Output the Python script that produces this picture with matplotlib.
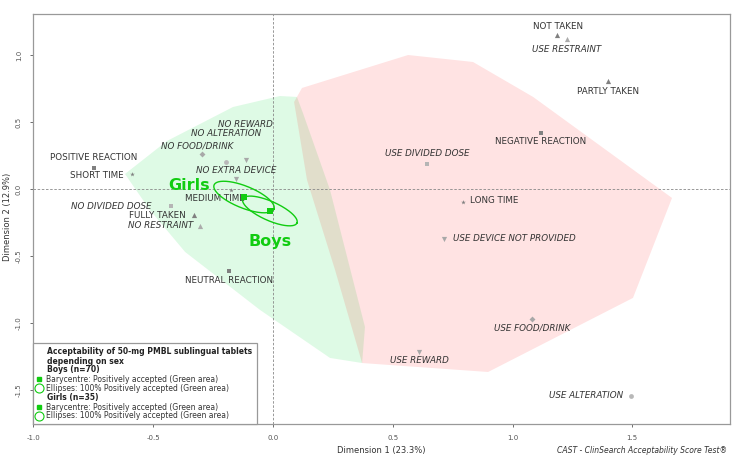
import numpy as np
import matplotlib.pyplot as plt

# category coordinates on the first two dimensions
labels = ['NOT TAKEN', 'USE RESTRAINT', 'PARTLY TAKEN', 'NEGATIVE REACTION',
          'USE DIVIDED DOSE', 'LONG TIME', 'USE DEVICE NOT PROVIDED',
          'USE FOOD/DRINK', 'USE REWARD', 'USE ALTERATION',
          'POSITIVE REACTION', 'SHORT TIME', 'NO FOOD/DRINK', 'NO ALTERATION',
          'NO REWARD', 'NO EXTRA DEVICE', 'MEDIUM TIME', 'NO DIVIDED DOSE',
          'FULLY TAKEN', 'NO RESTRAINT', 'NEUTRAL REACTION']
dim1 = [1.186, 1.228, 1.399, 1.119, 0.643, 0.793, 0.714, 1.081, 0.610, 1.495,
        -0.747, -0.589, -0.296, -0.196, -0.113, -0.155, -0.175, -0.426,
        -0.330, -0.305, -0.184]
dim2 = [1.149, 1.119, 0.806, 0.418, 0.187, -0.097, -0.373, -0.970, -1.216, -1.545,
        0.157, 0.112, 0.261, 0.201, 0.216, 0.075, -0.007, -0.127,
        -0.194, -0.276, -0.612]
variable = ['take', 'restraint', 'take', 'reaction', 'divided', 'time', 'device',
            'food', 'reward', 'alteration', 'reaction', 'time', 'food', 'alteration',
            'reward', 'device', 'time', 'divided', 'take', 'restraint', 'reaction']

# areas
green_x = [-0.618, -0.514, -0.367, -0.054, 0.238, 0.372, 0.384, 0.238, 0.125,
           0.100, 0.029, -0.167, -0.443]
green_y = [0.112, -0.157, -0.470, -0.903, -1.261, -1.299, -1.030, -0.007, 0.567,
           0.687, 0.694, 0.612, 0.358]
red_x = [0.088, 0.121, 0.564, 0.835, 1.086, 1.603, 1.666, 1.503, 0.898, 0.372,
         0.259, 0.142]
red_y = [0.649, 0.754, 1.000, 0.948, 0.687, 0.015, -0.067, -0.813, -1.366, -1.299,
         -0.604, 0.067]

# barycentres and ellipse half-axes (vectors)
groups = ['Girls', 'Boys']
bary_x = [-0.121, -0.013]
bary_y = [-0.060, -0.164]
ell_u = [(0.125, -0.090), (0.113, -0.090)]
ell_v = [(-0.017, -0.076), (-0.016, -0.065)]

# layout of labels (offset in pixels, alignment)
label_pos = {
    'NOT TAKEN': (1, 9, 'center'), 'USE RESTRAINT': (-1, -10, 'center'),
    'PARTLY TAKEN': (0, -11, 'center'), 'NEGATIVE REACTION': (0, -9, 'center'),
    'USE DIVIDED DOSE': (0, 10, 'center'), 'LONG TIME': (7, 1, 'left'),
    'USE DEVICE NOT PROVIDED': (9, 0, 'left'), 'USE FOOD/DRINK': (0, -9, 'center'),
    'USE REWARD': (0, -9, 'center'), 'USE ALTERATION': (-8, 0, 'right'),
    'POSITIVE REACTION': (0, 10, 'center'), 'SHORT TIME': (-8, -2, 'right'),
    'NO FOOD/DRINK': (-5, 8, 'center'), 'NO ALTERATION': (0, 29, 'center'),
    'NO REWARD': (0, 36, 'center'), 'NO EXTRA DEVICE': (0, 8, 'center'),
    'MEDIUM TIME': (-16, -9, 'center'), 'NO DIVIDED DOSE': (-19, 0, 'right'),
    'FULLY TAKEN': (-8, -1, 'right'), 'NO RESTRAINT': (-7, 0, 'right'),
    'NEUTRAL REACTION': (0, -10, 'center'),
}
styles = {
    'take': ('^', '#808080', 14), 'restraint': ('^', '#ababab', 14),
    'reaction': ('s', '#808080', 10), 'time': ('*', '#808080', 12),
    'divided': ('s', '#b5b5b5', 10), 'food': ('D', '#a8a8a8', 9),
    'alteration': ('o', '#b8b8b8', 12), 'reward': ('v', '#a8a8a8', 14),
    'device': ('v', '#a8a8a8', 14),
}
GREEN = '#11cc11'
W, H = 733, 461

fig = plt.figure(figsize=(W / 100, H / 100), dpi=100)
ax = fig.add_axes([33 / W, 37 / H, 697 / W, 410 / H])

ax.fill(green_x, green_y, color=(0.0, 0.86, 0.24), alpha=0.13, lw=0, zorder=1)
ax.fill(red_x, red_y, color=(1.0, 0.0, 0.0), alpha=0.11, lw=0, zorder=1)

ax.axhline(0, color='#888888', lw=0.6, ls=(0, (3, 2)), zorder=2)
ax.axvline(0, color='#888888', lw=0.6, ls=(0, (3, 2)), zorder=2)

for lab, x, y, var in zip(labels, dim1, dim2, variable):
    m, c, s = styles[var]
    ax.scatter(x, y, marker=m, color=c, s=s, lw=0, zorder=3)
    dx, dy, ha = label_pos[lab]
    italic = lab.startswith('NO ') or lab.startswith('USE ')
    ax.annotate(lab, (x, y), xytext=(dx, dy), textcoords='offset pixels',
                ha=ha, va='center', fontsize=6.3, color='#333333',
                style='italic' if italic else 'normal', zorder=4)

t = np.linspace(0, 2 * np.pi, 200)
for g, bx, by, u, v in zip(groups, bary_x, bary_y, ell_u, ell_v):
    ex = bx + u[0] * np.cos(t) + v[0] * np.sin(t)
    ey = by + u[1] * np.cos(t) + v[1] * np.sin(t)
    ax.plot(ex, ey, color=GREEN, lw=1, zorder=5)
    ax.scatter(bx, by, marker='s', color=GREEN, s=22, lw=0, zorder=6)

ax.annotate('Girls', (bary_x[0], bary_y[0]), xytext=(-55, 12), textcoords='offset pixels',
            ha='center', va='center', fontsize=11.5, fontweight='bold', color=GREEN)
ax.annotate('Boys', (bary_x[1], bary_y[1]), xytext=(0, -31), textcoords='offset pixels',
            ha='center', va='center', fontsize=11.5, fontweight='bold', color=GREEN)

ax.set_xlim(-1.002, 1.908)
ax.set_ylim(-1.754, 1.306)
ax.set_xticks([-1.0, -0.5, 0.0, 0.5, 1.0, 1.5])
ax.set_yticks([-1.5, -1.0, -0.5, 0.0, 0.5, 1.0])
ax.set_xticklabels(['-1.0', '-0.5', '0.0', '0.5', '1.0', '1.5'])
ax.set_yticklabels(['-1.5', '-1.0', '-0.5', '0.0', '0.5', '1.0'], rotation=90, va='center')
ax.tick_params(labelsize=5, colors='#555555', length=2, width=0.6, pad=6)
for sp in ax.spines.values():
    sp.set_color('#999999')
    sp.set_linewidth(0.9)

def fp(x, y):
    return x / W, 1 - y / H

fig.text(*fp(381, 450), 'Dimension 1 (23.3%)', ha='center', va='center',
         fontsize=6, color='#333333')
fig.text(*fp(8, 217), 'Dimension 2 (12.9%)', ha='center', va='center',
         fontsize=6, color='#333333', rotation=90)
fig.text(*fp(727, 450), 'CAST - ClinSearch Acceptability Score Test\u00ae', ha='right',
         va='center', fontsize=5.5, style='italic', color='#333333')

# legend box
x0, y0 = fp(33, 424)
x1, y1 = fp(257, 343)
fig.patches.append(plt.Rectangle((x0, y0), x1 - x0, y1 - y0, transform=fig.transFigure,
                                 facecolor='white', edgecolor='#999999', lw=0.9, zorder=10))
rows = [
    ('Acceptability of 50-mg PMBL sublingual tablets', 352, None),
    ('depending on sex', 361, None),
    ('Boys (n=70)', 369, None),
    ('Barycentre: Positively accepted (Green area)', 379, 's'),
    ('Ellipses: 100% Positively accepted (Green area)', 388, 'o'),
    ('Girls (n=35)', 397, None),
    ('Barycentre: Positively accepted (Green area)', 407, 's'),
    ('Ellipses: 100% Positively accepted (Green area)', 416, 'o'),
]
for txt, yy, mk in rows:
    if mk is None:
        fig.text(*fp(47, yy), txt, ha='left', va='center', fontsize=5.5,
                 fontweight='bold', color='#222222', zorder=11)
    else:
        fig.text(*fp(46, yy), txt, ha='left', va='center', fontsize=5.5,
                 color='#333333', zorder=11)
        mx, my = fp(39, yy)
        if mk == 's':
            fig.add_artist(plt.Line2D([mx], [my], marker='s', ms=3.5, color=GREEN,
                                      lw=0, transform=fig.transFigure, zorder=11))
        else:
            fig.add_artist(plt.Line2D([mx], [my], marker='o', ms=6.5, mfc='none',
                                      mec=GREEN, mew=0.8, lw=0,
                                      transform=fig.transFigure, zorder=11))

fig.savefig('out.png', dpi=100)
